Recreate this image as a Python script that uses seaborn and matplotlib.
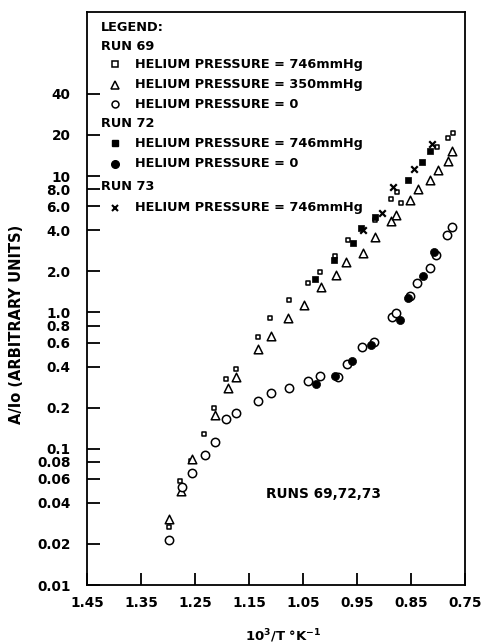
import matplotlib
matplotlib.use("Agg")
import matplotlib.pyplot as plt
import seaborn as sns

# run 69, helium pressure = 746 mmHg (open squares)
sq69_x = [1.298, 1.278, 1.257, 1.233, 1.215, 1.193, 1.174, 1.133, 1.111, 1.076,
          1.041, 1.019, 0.991, 0.967, 0.917, 0.887, 0.869, 0.876, 0.802, 0.781, 0.772]
sq69_y = [0.0267, 0.058, 0.0815, 0.129, 0.200, 0.327, 0.381, 0.655, 0.904, 1.225,
          1.63, 1.98, 2.58, 3.38, 4.75, 6.78, 6.33, 7.63, 16.3, 19.0, 20.7]

# run 69, helium pressure = 350 mmHg (open triangles)
tri69_x = [1.298, 1.276, 1.256, 1.213, 1.189, 1.174, 1.133, 1.109, 1.078, 1.048,
           1.017, 0.989, 0.970, 0.939, 0.917, 0.887, 0.878, 0.852, 0.837, 0.815,
           0.800, 0.781, 0.774]
tri69_y = [0.0306, 0.049, 0.084, 0.178, 0.281, 0.338, 0.535, 0.666, 0.904, 1.125,
           1.53, 1.87, 2.33, 2.72, 3.56, 4.67, 5.17, 6.66, 8.02, 9.35,
           11.1, 12.9, 15.3]

# run 69, helium pressure = 0 (open circles)
ci69_x = [1.298, 1.274, 1.256, 1.231, 1.213, 1.193, 1.174, 1.133, 1.109, 1.076,
          1.041, 1.019, 0.985, 0.969, 0.941, 0.919, 0.885, 0.878, 0.852, 0.839,
          0.815, 0.804, 0.783, 0.774]
ci69_y = [0.0214, 0.0525, 0.0666, 0.0903, 0.1126, 0.166, 0.184, 0.222, 0.258, 0.281,
          0.316, 0.344, 0.338, 0.415, 0.553, 0.602, 0.919, 0.984, 1.31, 1.63,
          2.11, 2.62, 3.68, 4.22]

# run 72, helium pressure = 746 mmHg (filled squares)
sq72_x = [1.028, 0.993, 0.957, 0.943, 0.917, 0.856, 0.830, 0.815]
sq72_y = [1.75, 2.41, 3.22, 4.15, 5.0, 9.35, 12.7, 15.3]

# run 72, helium pressure = 0 (filled circles)
ci72_x = [1.026, 0.991, 0.959, 0.924, 0.870, 0.856, 0.828, 0.807]
ci72_y = [0.296, 0.344, 0.436, 0.58, 0.874, 1.27, 1.84, 2.76]

# run 73, helium pressure = 746 mmHg (crosses)
x73_x = [0.939, 0.904, 0.883, 0.844, 0.811]
x73_y = [4.01, 5.35, 8.3, 11.2, 17.2]

x_ticks = [1.45, 1.35, 1.25, 1.15, 1.05, 0.95, 0.85, 0.75]
y_ticks = [0.01, 0.02, 0.04, 0.06, 0.08, 0.1, 0.2, 0.4, 0.6, 0.8,
           1.0, 2.0, 4.0, 6.0, 8.0, 10, 20, 40]
y_tick_labels = ["0.01", "0.02", "0.04", "0.06", "0.08", "0.1", "0.2", "0.4", "0.6", "0.8",
                 "1.0", "2.0", "4.0", "6.0", "8.0", "10", "20", "40"]

sns.set_style("ticks")
plt.rcParams['font.family'] = ['DejaVu Sans']
plt.rcParams['font.weight'] = 'bold'
for key in ['text.color', 'axes.labelcolor', 'xtick.color', 'ytick.color', 'axes.edgecolor']:
    plt.rcParams[key] = 'black'

fig = plt.figure(figsize=(4.84, 6.44), dpi=100)
ax = fig.add_axes([0.180, 0.0916, 0.781, 0.890])

open_kw = dict(facecolor='white', edgecolor='black', linewidth=1.1, zorder=3)
fill_kw = dict(color='black', edgecolor='black', linewidth=0.5, zorder=3)

sns.scatterplot(x=sq69_x, y=sq69_y, marker='s', s=12, ax=ax, **open_kw)
sns.scatterplot(x=tri69_x, y=tri69_y, marker='^', s=38, ax=ax, **open_kw)
sns.scatterplot(x=ci69_x, y=ci69_y, marker='o', s=36, ax=ax, **open_kw)
sns.scatterplot(x=sq72_x, y=sq72_y, marker='s', s=14, ax=ax, **fill_kw)
sns.scatterplot(x=ci72_x, y=ci72_y, marker='o', s=34, ax=ax, **fill_kw)
sns.scatterplot(x=x73_x, y=x73_y, marker='x', s=22, ax=ax, color='black', linewidth=1.6, zorder=3)

ax.set_yscale('log')
ax.set_xlim(1.45, 0.75)
ax.set_ylim(0.01, 160)
ax.set_xticks(x_ticks)
ax.set_xticklabels([f"{t:.2f}" for t in x_ticks])
ax.set_yticks(y_ticks)
ax.set_yticklabels(y_tick_labels)
ax.yaxis.set_minor_locator(matplotlib.ticker.NullLocator())
ax.tick_params(direction='in', length=9, width=1.3, labelsize=9.8, colors='black')
ax.tick_params(axis='y', pad=12)
ax.tick_params(axis='x', pad=8)
for sp in ax.spines.values():
    sp.set_linewidth(1.3)
    sp.set_color('black')
    sp.set_visible(True)

ax.set_xlabel("10$^3$/T °K$^{-1}$", fontsize=9.5, fontweight='bold')
ax.xaxis.set_label_coords(0.519, -0.074)
ax.set_ylabel("A/Io (ARBITRARY UNITS)", fontsize=10.5, fontweight='bold',
              ha='center', va='center')
ax.yaxis.set_label_coords(-0.188, 0.454)

# hand-drawn style legend block
tx = ax.transAxes
fs = 9.3
ax.text(0.037, 0.972, "LEGEND:", transform=tx, fontsize=fs, va='center')
rows = [
    ("RUN 69", None, 0.939),
    ("HELIUM PRESSURE = 746mmHg", dict(marker='s', ms=4, mfc='white', mec='black', mew=1.1), 0.909),
    ("HELIUM PRESSURE = 350mmHg", dict(marker='^', ms=6, mfc='white', mec='black', mew=1.1), 0.873),
    ("HELIUM PRESSURE = 0", dict(marker='o', ms=5, mfc='white', mec='black', mew=1.1), 0.839),
    ("RUN 72", None, 0.806),
    ("HELIUM PRESSURE = 746mmHg", dict(marker='s', ms=4.5, mfc='black', mec='black'), 0.771),
    ("HELIUM PRESSURE = 0", dict(marker='o', ms=5.5, mfc='black', mec='black'), 0.735),
    ("RUN 73", None, 0.696),
    ("HELIUM PRESSURE = 746mmHg", dict(marker='x', ms=4.5, mec='black', mew=1.5), 0.658),
]
for label, mk, yy in rows:
    if mk is None:
        ax.text(0.037, yy, label, transform=tx, fontsize=fs, va='center')
    else:
        ax.plot([0.074], [yy], transform=tx, linestyle='none', **mk)
        ax.text(0.127, yy, label, transform=tx, fontsize=fs, va='center')

ax.text(0.474, 0.159, "RUNS 69,72,73", transform=tx, fontsize=9.8, va='center')

fig.savefig("out.png", dpi=100)
